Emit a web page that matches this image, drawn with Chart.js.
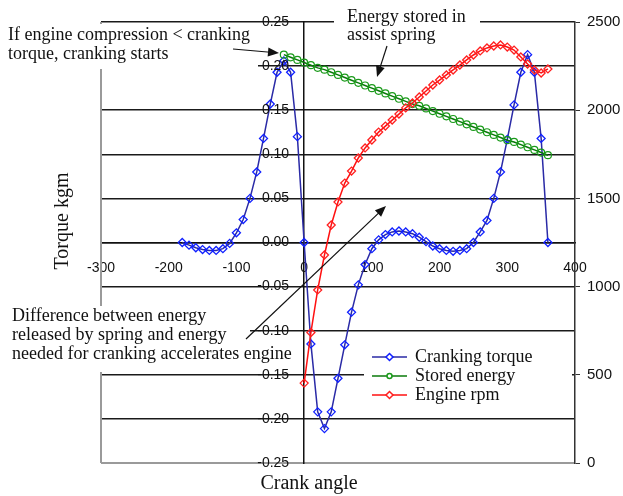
<!DOCTYPE html>
<html>
<head>
<meta charset="utf-8">
<script src="https://cdn.jsdelivr.net/npm/chart.js@4.4.1/dist/chart.umd.min.js"></script>
<style>
  body { margin: 0; background: #fff; }
  #wrap { width: 623px; height: 496px; }
</style>
</head>
<body>
<div id="wrap"><canvas id="chart" width="623" height="496"></canvas></div>
<script>
// crank angles (deg) for each series
const torqueAngles = [-180,-170,-160,-150,-140,-130,-120,-110,-100,-90,-80,-70,-60,-50,-40,-30,-20,-10,0,
  10,20,30,40,50,60,70,80,90,100,110,120,130,140,150,160,170,180,190,200,210,220,230,240,250,260,270,280,290,300,310,320,330,340,350,360];
const crankingTorque = [0.000,-0.003,-0.006,-0.008,-0.009,-0.009,-0.007,-0.001,0.011,0.026,0.050,0.080,0.118,0.157,0.193,0.206,0.193,0.120,0.000,
  -0.115,-0.192,-0.211,-0.192,-0.154,-0.116,-0.079,-0.048,-0.025,-0.007,0.003,0.009,0.012,0.013,0.012,0.010,0.006,0.001,-0.004,-0.007,-0.009,-0.010,-0.009,-0.007,0.000,0.012,0.025,0.050,0.080,0.117,0.156,0.193,0.213,0.193,0.118,0.000];

const energyAngles = [-30,-20,-10,0,10,20,30,40,50,60,70,80,90,100,110,120,130,140,150,160,170,180,190,200,210,220,230,240,250,260,270,280,290,300,310,320,330,340,350,360];
const storedEnergy = [0.213,0.210,0.207,0.204,0.201,0.198,0.196,0.193,0.190,0.187,0.184,0.181,0.178,0.175,0.172,0.169,0.166,0.163,0.160,0.157,
  0.155,0.152,0.149,0.146,0.143,0.140,0.137,0.134,0.131,0.128,0.125,0.122,0.119,0.116,0.114,0.111,0.108,0.105,0.102,0.099];

const rpmAngles = [0,10,20,30,40,50,60,70,80,90,100,110,120,130,140,150,160,170,180,190,200,210,220,230,240,250,260,270,280,290,300,310,320,330,340,350,360];
const engineRpm = [453,740,981,1179,1349,1480,1587,1655,1729,1786,1831,1876,1910,1944,1978,2013,2041,2075,2109,2143,2171,2200,2228,2256,2285,2313,2336,2353,2364,2370,2358,2341,2302,2262,2228,2211,2234];

const seriesNames = ['Cranking torque', 'Stored energy', 'Engine rpm'];
const xTicks = [-300,-200,-100,0,100,200,300,400];
const torqueTicks = [-0.25,-0.20,-0.15,-0.10,-0.05,0,0.05,0.10,0.15,0.20,0.25];
const rpmTicks = [0,500,1000,1500,2000,2500];

const noteStart = ['If engine compression < cranking', 'torque, cranking starts'];
const noteSpring = ['Energy stored in', 'assist spring'];
const noteDiff = ['Difference between energy', 'released by spring and energy', 'needed for cranking accelerates engine'];

const pts = (xs, ys) => xs.map((x, i) => ({ x: x, y: ys[i] }));
const SERIF = '"Liberation Serif", "DejaVu Serif", serif';
const SANS = '"Liberation Sans", Arial, sans-serif';

function arrow(ctx, x1, y1, x2, y2, len, half) {
  const a = Math.atan2(y2 - y1, x2 - x1);
  ctx.beginPath();
  ctx.moveTo(x1, y1);
  ctx.lineTo(x2 - Math.cos(a) * len * 0.8, y2 - Math.sin(a) * len * 0.8);
  ctx.stroke();
  ctx.beginPath();
  ctx.moveTo(x2, y2);
  ctx.lineTo(x2 - Math.cos(a) * len - Math.sin(a) * half, y2 - Math.sin(a) * len + Math.cos(a) * half);
  ctx.lineTo(x2 - Math.cos(a) * len + Math.sin(a) * half, y2 - Math.sin(a) * len - Math.cos(a) * half);
  ctx.closePath();
  ctx.fill();
}

function marker(ctx, style, x, y, r) {
  ctx.beginPath();
  if (style === 'circle') {
    ctx.arc(x, y, r, 0, Math.PI * 2);
  } else {
    ctx.moveTo(x, y - r); ctx.lineTo(x + r, y); ctx.lineTo(x, y + r); ctx.lineTo(x - r, y); ctx.closePath();
  }
  ctx.fillStyle = '#fff';
  ctx.fill();
  ctx.stroke();
}

const overlay = {
  id: 'overlay',
  beforeDatasetsDraw(chart) {
    const { ctx, chartArea: a } = chart;
    ctx.save();
    ctx.strokeStyle = '#9a9a9a';
    ctx.lineWidth = 2;
    ctx.beginPath();
    ctx.moveTo(a.left, a.top);
    ctx.lineTo(a.left, a.bottom);
    ctx.stroke();
    ctx.restore();
  },
  afterDraw(chart) {
    const { ctx } = chart;
    const ys = chart.scales.y;
    const x0 = chart.scales.x.getPixelForValue(0);
    ctx.save();

    // torque tick labels, right-aligned against the crossing axis
    ctx.fillStyle = '#111';
    ctx.font = '14px ' + SANS;
    ctx.textAlign = 'right';
    ctx.textBaseline = 'middle';
    ys.ticks.forEach(t => ctx.fillText(t.value.toFixed(2), x0 - 15, ys.getPixelForValue(t.value)));

    ctx.fillStyle = '#fff';
    ctx.fillRect(0, 24, 258, 45);
    ctx.fillRect(334, 4, 146, 42);
    ctx.fillRect(0, 306, 250, 66);
    ctx.fillRect(364, 346, 208, 58);

    ctx.fillStyle = '#111';
    ctx.font = '18px ' + SERIF;
    ctx.textAlign = 'left';
    noteStart.forEach((t, i) => ctx.fillText(t, 8, 35 + i * 19));
    noteSpring.forEach((t, i) => ctx.fillText(t, 347, 17 + i * 18));
    noteDiff.forEach((t, i) => ctx.fillText(t, 12, 316 + i * 19));

    // axis titles
    ctx.font = '20px ' + SERIF;
    ctx.textAlign = 'center';
    ctx.fillText('Crank angle', 309, 484);
    ctx.save();
    ctx.translate(63, 221);
    ctx.rotate(-Math.PI / 2);
    ctx.fillText('Torque kgm', 0, 0);
    ctx.restore();

    // arrows
    ctx.strokeStyle = '#111';
    ctx.fillStyle = '#111';
    ctx.lineWidth = 1.2;
    arrow(ctx, 233, 49, 279, 53, 11, 4.5);
    arrow(ctx, 387, 46, 377, 77, 11, 4.5);
    arrow(ctx, 246, 339, 386, 206, 11, 4.5);

    // legend
    ctx.font = '18px ' + SERIF;
    ctx.textAlign = 'left';
    chart.data.datasets.forEach((d, i) => {
      const y = 357 + i * 19;
      ctx.strokeStyle = d.borderColor;
      ctx.lineWidth = 1.5;
      ctx.beginPath();
      ctx.moveTo(372, y);
      ctx.lineTo(407, y);
      ctx.stroke();
      ctx.strokeStyle = d.pointBorderColor;
      marker(ctx, d.pointStyle, 389.5, y, i === 1 ? 2.5 : 3.5);
      ctx.fillStyle = '#111';
      ctx.fillText(seriesNames[i], 415, y);
    });
    ctx.restore();
  }
};

new Chart(document.getElementById('chart'), {
  type: 'line',
  data: {
    datasets: [
      {
        label: seriesNames[0],
        data: pts(torqueAngles, crankingTorque),
        yAxisID: 'y',
        borderColor: '#2a2aa6',
        pointBorderColor: '#1020ff',
        pointBackgroundColor: 'rgba(255,255,255,0)',
        pointStyle: 'rectRot',
        pointRadius: 4,
        pointBorderWidth: 1.3,
        borderWidth: 1.5,
        order: 3
      },
      {
        label: seriesNames[1],
        data: pts(energyAngles, storedEnergy),
        yAxisID: 'y',
        borderColor: '#0a7a0a',
        pointBorderColor: '#1a9a1a',
        pointBackgroundColor: 'rgba(255,255,255,0)',
        pointStyle: 'circle',
        pointRadius: 3.5,
        pointBorderWidth: 1.2,
        borderWidth: 1.5,
        order: 2
      },
      {
        label: seriesNames[2],
        data: pts(rpmAngles, engineRpm),
        yAxisID: 'y2',
        borderColor: '#ff1010',
        pointBorderColor: '#ff2020',
        pointBackgroundColor: 'rgba(255,255,255,0)',
        pointStyle: 'rectRot',
        pointRadius: 4,
        pointBorderWidth: 1.3,
        borderWidth: 1.5,
        order: 1
      }
    ]
  },
  options: {
    responsive: false,
    animation: false,
    layout: { padding: { left: 101, top: 22, bottom: 33, right: 0 } },
    plugins: { legend: { display: false }, tooltip: { enabled: false } },
    scales: {
      x: {
        type: 'linear',
        position: { y: 0 },
        min: -300,
        max: 400,
        afterBuildTicks: s => { s.ticks = xTicks.map(v => ({ value: v })); },
        grid: { display: false },
        border: { display: true, color: '#111', width: 1.5 },
        ticks: { padding: 9, color: '#111', font: { family: SANS, size: 14 } }
      },
      y: {
        type: 'linear',
        position: { x: 0 },
        min: -0.25,
        max: 0.25,
        afterBuildTicks: s => { s.ticks = torqueTicks.map(v => ({ value: v })); },
        grid: {
          drawTicks: false,
          color: c => (c.tick && Math.abs(c.tick.value + 0.25) < 1e-6) ? '#9a9a9a' : '#1a1a1a',
          lineWidth: c => (c.tick && Math.abs(c.tick.value + 0.25) < 1e-6) ? 2 : 1.4
        },
        border: { display: true, color: '#111', width: 1.5 },
        ticks: { display: false }
      },
      y2: {
        type: 'linear',
        position: 'right',
        min: 0,
        max: 2500,
        afterBuildTicks: s => { s.ticks = rpmTicks.map(v => ({ value: v })); },
        afterFit: s => { s.width = 48; },
        grid: { drawOnChartArea: false, drawTicks: true, tickLength: 5, color: '#333' },
        border: { display: true, color: '#333', width: 1.5 },
        ticks: { padding: 7, color: '#111', font: { family: SANS, size: 15 }, callback: v => String(v) }
      }
    }
  },
  plugins: [overlay]
});
</script>
</body>
</html>
